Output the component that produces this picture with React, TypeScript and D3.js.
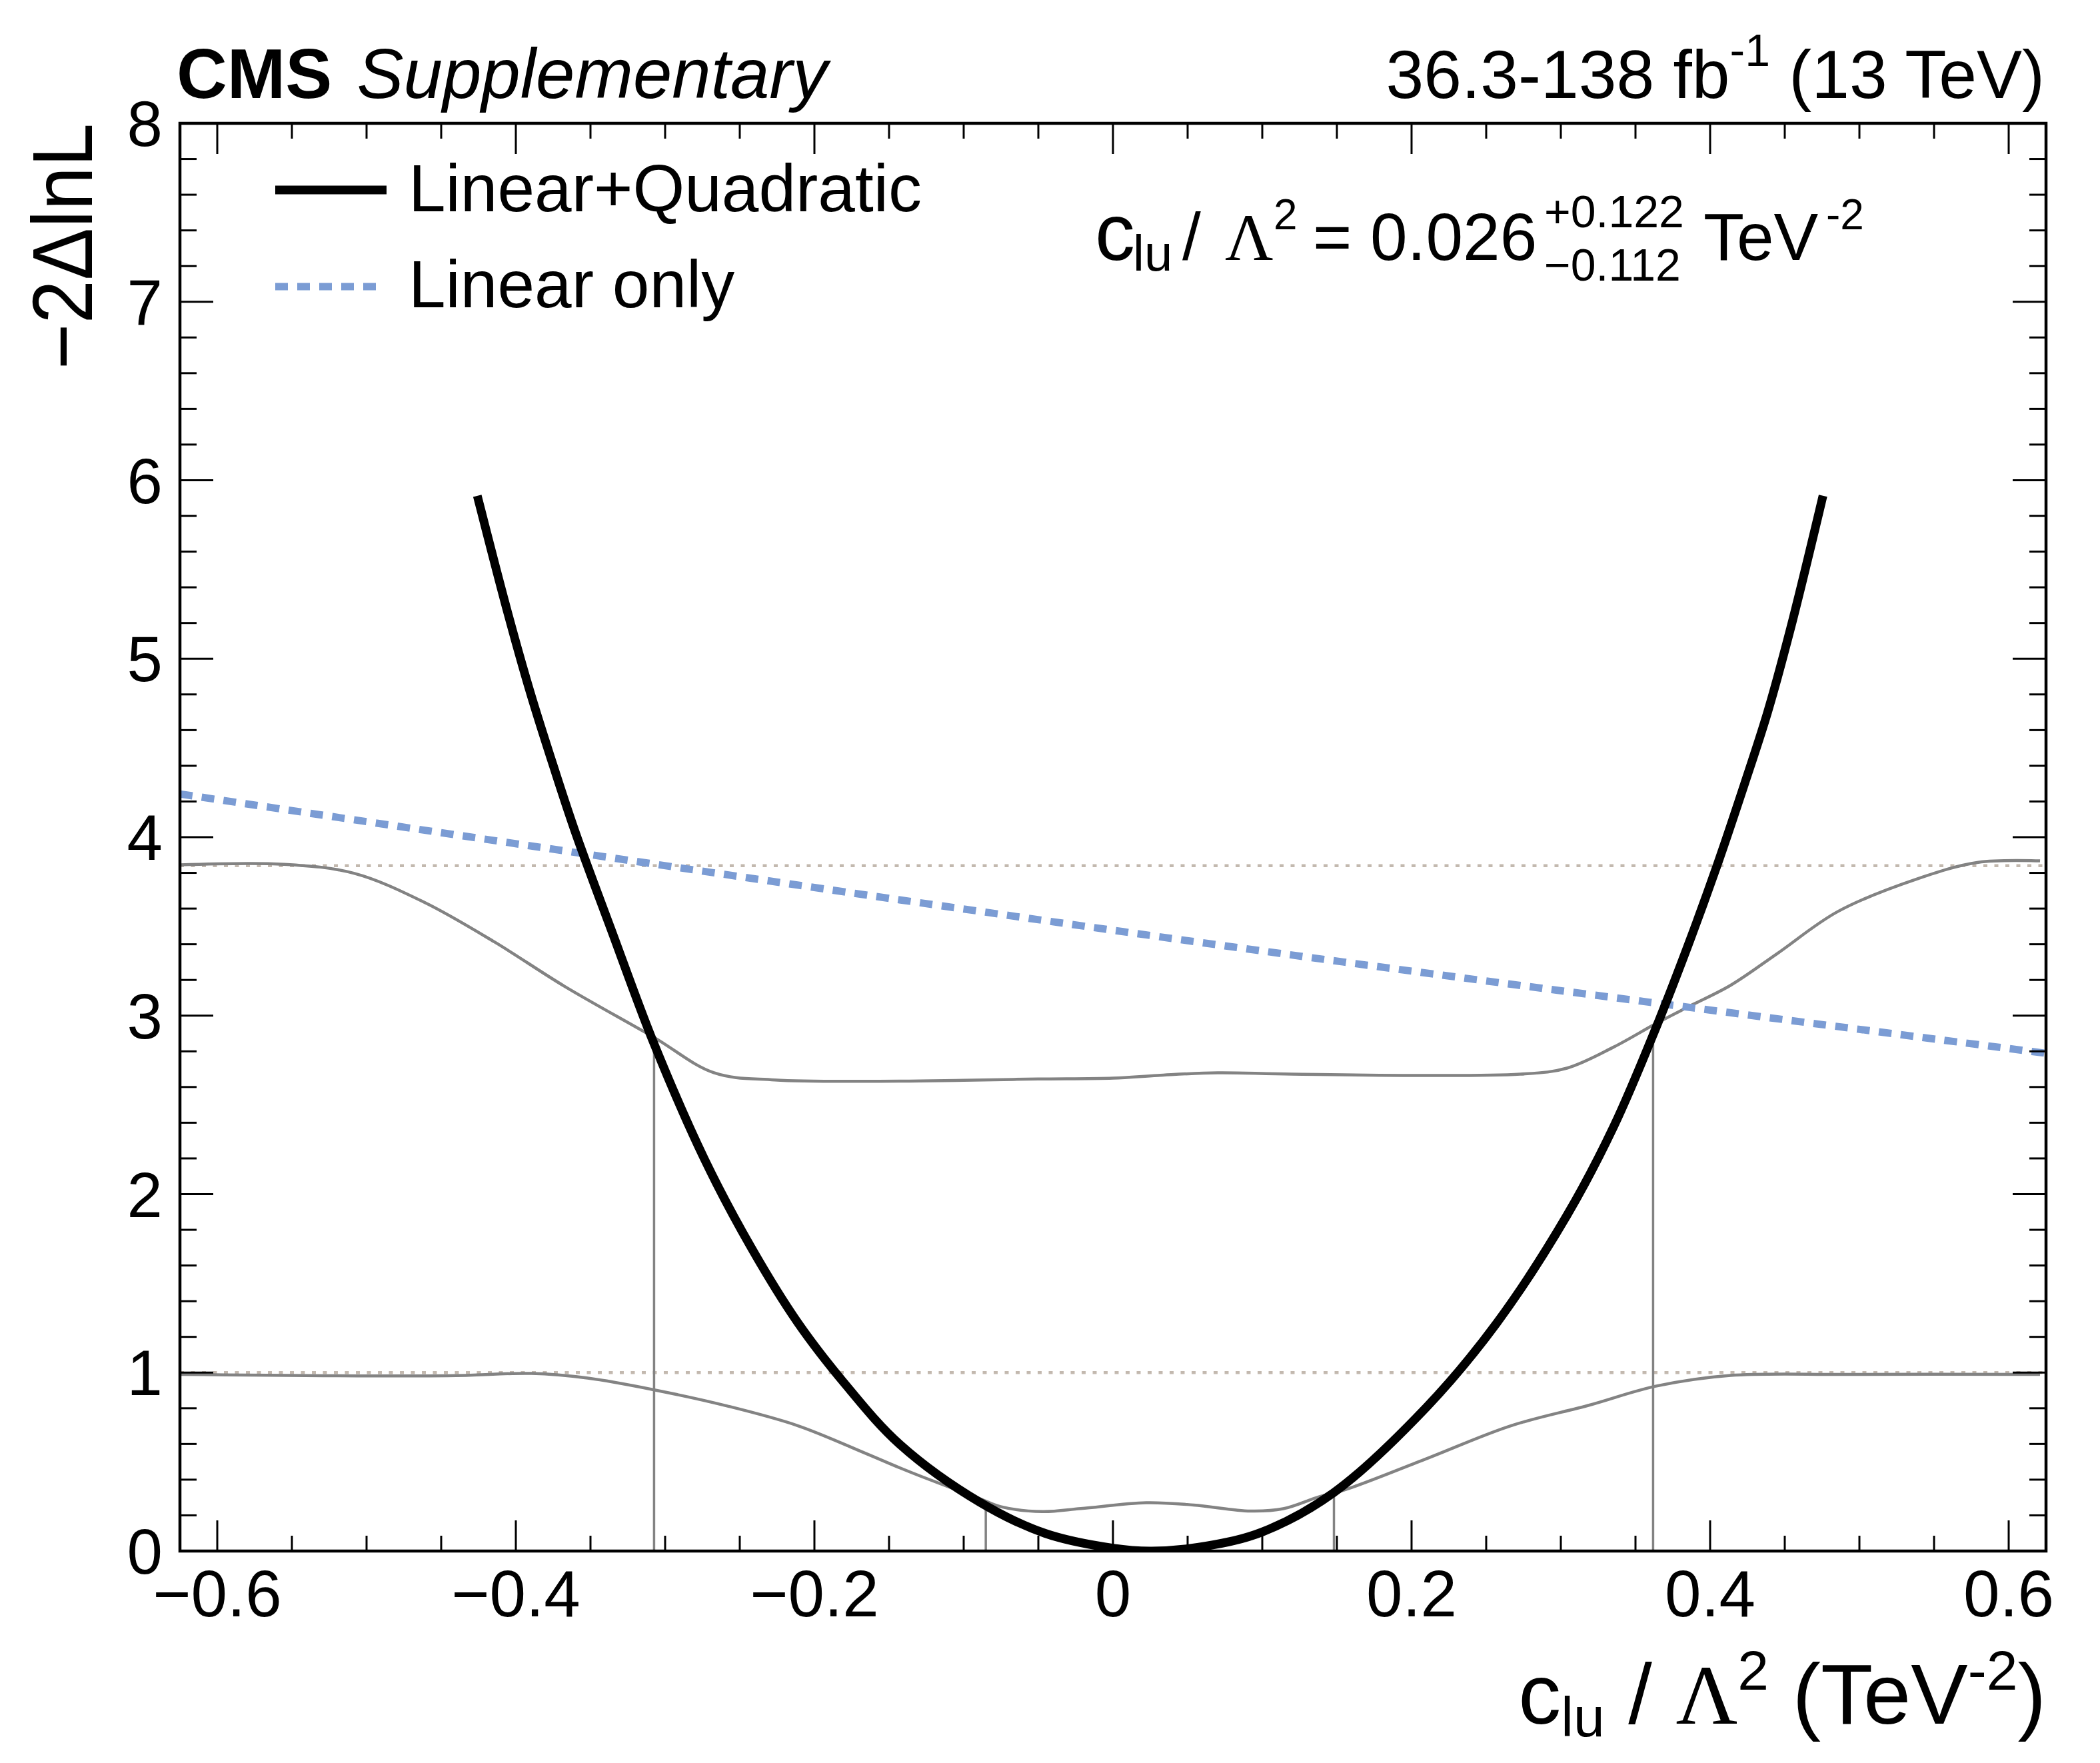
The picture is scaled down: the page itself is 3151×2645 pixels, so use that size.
import React, { useEffect } from 'react';
import * as d3 from 'd3';

type Pt = [number, number];

// -2ΔlnL scan, linear + quadratic EFT terms
const linearQuadratic: Pt[] = [
  [-0.4258, 5.913], [-0.4056, 5.263], [-0.3903, 4.81], [-0.3745, 4.39], [-0.3599, 4.022],
  [-0.336, 3.479], [-0.3078, 2.85], [-0.2736, 2.195], [-0.2423, 1.7], [-0.211, 1.278],
  [-0.1796, 0.937], [-0.1427, 0.597], [-0.0893, 0.274], [-0.0454, 0.099], [0.0, 0.016],
  [0.026, 0.0], [0.0625, 0.028], [0.1, 0.107], [0.1475, 0.325], [0.2101, 0.807],
  [0.2571, 1.278], [0.3041, 1.881], [0.3354, 2.378], [0.3636, 2.929], [0.3855, 3.4],
  [0.4043, 3.833], [0.4231, 4.3], [0.4385, 4.7], [0.4539, 5.17], [0.4756, 5.913],
];

// linear terms only
const linearOnly: Pt[] = [
  [-0.625, 4.242], [-0.143, 3.649], [0.154, 3.301], [0.625, 2.789],
];

// 95% CL threshold curve
const upperThreshold: Pt[] = [
  [-0.625, 3.845], [-0.5554, 3.848], [-0.5085, 3.798], [-0.4615, 3.636], [-0.4145, 3.414],
  [-0.3675, 3.165], [-0.308, 2.881], [-0.2673, 2.68], [-0.2266, 2.64], [-0.1427, 2.633],
  [-0.1, 2.638], [-0.05, 2.645], [0.0, 2.65], [0.03, 2.665], [0.07, 2.68], [0.12, 2.672],
  [0.2728, 2.672], [0.3041, 2.706], [0.3354, 2.824], [0.3636, 2.955], [0.3855, 3.05],
  [0.4137, 3.17], [0.445, 3.348], [0.4857, 3.584], [0.539, 3.767], [0.5796, 3.859],
  [0.621, 3.867],
];

// 68% CL threshold curve
const lowerThreshold: Pt[] = [
  [-0.625, 0.99], [-0.4459, 0.982], [-0.3895, 0.995], [-0.3519, 0.969], [-0.3078, 0.904],
  [-0.258, 0.812], [-0.211, 0.702], [-0.165, 0.545], [-0.1427, 0.466], [-0.125, 0.407],
  [-0.0893, 0.294], [-0.0753, 0.249], [-0.0474, 0.221], [-0.0215, 0.238], [0.0223, 0.271],
  [0.054, 0.258], [0.092, 0.224], [0.114, 0.237], [0.138, 0.304], [0.157, 0.348],
  [0.2101, 0.518], [0.2665, 0.702], [0.3197, 0.819], [0.3636, 0.924], [0.4137, 0.984],
  [0.492, 0.99], [0.621, 0.99],
];

// interval edges: [x, height where the scan meets the threshold]
const intervalEdges: Pt[] = [
  [-0.3074, 2.88], [-0.0852, 0.262], [0.148, 0.325], [0.3618, 2.93],
];

const levels = [1, 3.84];
const xMajorTicks = [-0.6, -0.4, -0.2, 0, 0.2, 0.4, 0.6];
const xTickLabels = ['\u22120.6', '\u22120.4', '\u22120.2', '0', '0.2', '0.4', '0.6'];
const yMajorTicks = [0, 1, 2, 3, 4, 5, 6, 7, 8];

const W = 3151;
const H = 2645;
const frame = { left: 270, right: 3070, top: 185, bottom: 2327 };
const font = '"Liberation Sans", Arial, Helvetica, sans-serif';
const serif = '"Liberation Serif", "Times New Roman", serif';

const gray = '#838383';
const blue = '#7b9cd4';
const dotColor = '#c3b9af';

export default function App() {
  useEffect(() => {
    document.body.style.margin = '0';
  }, []);

  const x = d3.scaleLinear().domain([-0.625, 0.625]).range([frame.left, frame.right]);
  const y = d3.scaleLinear().domain([0, 8]).range([frame.bottom, frame.top]);

  const line = d3
    .line<Pt>()
    .x((d) => x(d[0]))
    .y((d) => y(d[1]))
    .curve(d3.curveCatmullRom.alpha(0.5));

  const xMinor = d3.range(-12, 13).map((i) => i * 0.05).filter((_, i) => i % 4 !== 0);
  const yMinor = d3.range(0, 41).map((i) => i * 0.2).filter((_, i) => i % 5 !== 0);

  const majorX = 46;
  const minorX = 23;
  const majorY = 50;
  const minorY = 25;

  return (
    <svg width={W} height={H} viewBox={`0 0 ${W} ${H}`} style={{ display: 'block', background: '#fff' }} fontFamily={font}>
      <defs>
        <clipPath id="plot-clip">
          <rect x={frame.left} y={frame.top} width={frame.right - frame.left} height={frame.bottom - frame.top} />
        </clipPath>
      </defs>

      <g clipPath="url(#plot-clip)">
        {/* reference levels */}
        {levels.map((lv) => (
          <line
            key={`lv-${lv}`}
            x1={frame.left}
            x2={frame.right}
            y1={y(lv)}
            y2={y(lv)}
            stroke={dotColor}
            strokeWidth={4.5}
            strokeDasharray="6 10.5"
          />
        ))}

        <path d={line(upperThreshold) ?? ''} fill="none" stroke={gray} strokeWidth={4.5} />
        <path d={line(lowerThreshold) ?? ''} fill="none" stroke={gray} strokeWidth={4.5} />

        {intervalEdges.map((e) => (
          <line key={`edge-${e[0]}`} x1={x(e[0])} x2={x(e[0])} y1={y(0)} y2={y(e[1])} stroke={gray} strokeWidth={3.5} />
        ))}

        <path d={line(linearOnly) ?? ''} fill="none" stroke={blue} strokeWidth={11} strokeDasharray="19 14" />
        <path d={line(linearQuadratic) ?? ''} fill="none" stroke="#000" strokeWidth={13} />
      </g>

      {/* ticks */}
      <g stroke="#000" strokeWidth={3}>
        {xMajorTicks.map((t) => (
          <g key={`xt-${t}`}>
            <line x1={x(t)} x2={x(t)} y1={frame.bottom} y2={frame.bottom - majorX} />
            <line x1={x(t)} x2={x(t)} y1={frame.top} y2={frame.top + majorX} />
          </g>
        ))}
        {xMinor.map((t) => (
          <g key={`xm-${t}`}>
            <line x1={x(t)} x2={x(t)} y1={frame.bottom} y2={frame.bottom - minorX} />
            <line x1={x(t)} x2={x(t)} y1={frame.top} y2={frame.top + minorX} />
          </g>
        ))}
        {yMajorTicks.map((t) => (
          <g key={`yt-${t}`}>
            <line x1={frame.left} x2={frame.left + majorY} y1={y(t)} y2={y(t)} />
            <line x1={frame.right} x2={frame.right - majorY} y1={y(t)} y2={y(t)} />
          </g>
        ))}
        {yMinor.map((t) => (
          <g key={`ym-${t}`}>
            <line x1={frame.left} x2={frame.left + minorY} y1={y(t)} y2={y(t)} />
            <line x1={frame.right} x2={frame.right - minorY} y1={y(t)} y2={y(t)} />
          </g>
        ))}
      </g>

      <rect
        x={frame.left}
        y={frame.top}
        width={frame.right - frame.left}
        height={frame.bottom - frame.top}
        fill="none"
        stroke="#000"
        strokeWidth={4.5}
      />

      {/* tick labels */}
      {xMajorTicks.map((t, i) => (
        <text key={`xl-${t}`} x={x(t)} y={2425} fontSize={98} textAnchor="middle">
          {xTickLabels[i]}
        </text>
      ))}
      {yMajorTicks.map((t) => (
        <text key={`yl-${t}`} x={244} y={y(t) + 34} fontSize={96} textAnchor="end">
          {t}
        </text>
      ))}

      {/* axis titles */}
      <text
        transform={`translate(138, ${frame.top}) rotate(-90)`}
        fontSize={128}
        textAnchor="end"
        textLength={369}
        lengthAdjust="spacingAndGlyphs"
      >
        {'\u22122\u0394lnL'}
      </text>

      <text x={frame.right} y={2586} fontSize={128} textAnchor="end">
        <tspan>c</tspan>
        <tspan fontSize={84} dy={19}>lu</tspan>
        <tspan dy={-19}>{' / '}</tspan>
        <tspan fontFamily={serif}>{'\u039B'}</tspan>
        <tspan fontSize={84} dy={-51}>2</tspan>
        <tspan dy={51}>{' (TeV'}</tspan>
        <tspan fontSize={84} dy={-51}>-2</tspan>
        <tspan dy={51}>)</tspan>
      </text>

      {/* header */}
      <text x={265} y={147} fontSize={105}>
        <tspan fontWeight="bold">CMS</tspan>
        <tspan fontStyle="italic" dx={8}>{' Supplementary'}</tspan>
      </text>
      <text x={3068} y={147} fontSize={102} textAnchor="end">
        <tspan>36.3-138 fb</tspan>
        <tspan fontSize={68} dy={-48}>-1</tspan>
        <tspan dy={48}>{' (13 TeV)'}</tspan>
      </text>

      {/* legend */}
      <line x1={413} x2={580} y1={285} y2={285} stroke="#000" strokeWidth={13} />
      <text x={613} y={317} fontSize={100}>Linear+Quadratic</text>
      <line x1={413} x2={564} y1={430} y2={430} stroke={blue} strokeWidth={11} strokeDasharray="19 14" />
      <text x={613} y={461} fontSize={100}>Linear only</text>

      {/* best-fit annotation */}
      <g fontSize={100}>
        <text x={1643} y={390} fontSize={120}>c</text>
        <text x={1700} y={406} fontSize={76}>lu</text>
        <text x={1774} y={390}>/</text>
        <text x={1838} y={390} fontSize={100} fontFamily={serif}>{'\u039B'}</text>
        <text x={1911} y={344} fontSize={64}>2</text>
        <text x={1970} y={390}>=</text>
        <text x={2056} y={390}>0.026</text>
        <text x={2317} y={341} fontSize={68}>+0.122</text>
        <text x={2317} y={421} fontSize={68}>{'\u22120.112'}</text>
        <text x={2556} y={390}>TeV</text>
        <text x={2740} y={344} fontSize={64}>-2</text>
      </g>
    </svg>
  );
}
